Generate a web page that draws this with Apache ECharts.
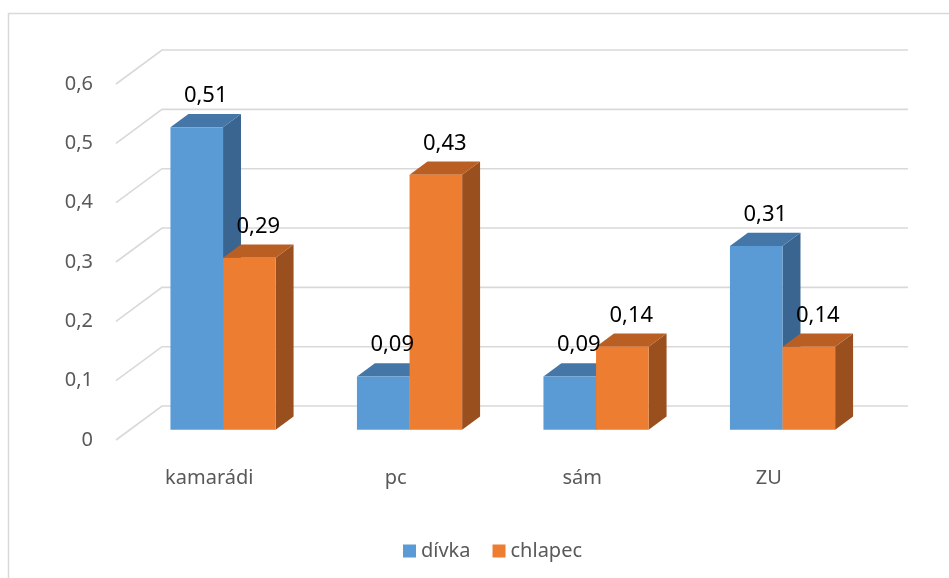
<!DOCTYPE html>
<html>
<head>
<meta charset="utf-8">
<script src="https://cdn.jsdelivr.net/npm/echarts@6/dist/echarts.min.js"></script>
<style>html,body{margin:0;padding:0;background:#fff;}#c{width:949px;height:578px;}</style>
</head>
<body>
<div id="c"></div>
<script>
var categories = ['kamarádi', 'pc', 'sám', 'ZU'];
var seriesNames = ['dívka', 'chlapec'];
var divka = [0.51, 0.09, 0.09, 0.31];
var chlapec = [0.29, 0.43, 0.14, 0.14];
var yTicks = [0, 0.1, 0.2, 0.3, 0.4, 0.5, 0.6];

var FONT = '"Noto Sans", "Open Sans", sans-serif';
var DEPTH_X = 0.2466, DEPTH_Y = 0.182;   // full depth vector relative to band width
var F_FRONT = 0.30, F_BACK = 0.69;       // bar depth placement
var BAR_W = 0.282;                       // bar width relative to band

function fmt(v) { return String(v).replace('.', ','); }

function gridItem(params, api) {
  var v = api.value(1);
  var p = api.coord([0, v]);
  var band = api.size([1, 0])[0];
  var left = p[0] - band / 2;
  var dx = band * DEPTH_X, dy = band * DEPTH_Y;
  var w = band * categories.length;
  return {
    type: 'polyline',
    shape: { points: [[left, p[1]], [left + dx, p[1] - dy], [left + dx + w, p[1] - dy]] },
    style: { stroke: '#D9D9D9', lineWidth: 1.6, fill: null },
    silent: true
  };
}

function barGeom(side, api) {
  var i = api.value(0), v = api.value(1);
  var base = api.coord([i, 0]);
  var top = api.coord([i, v]);
  var band = api.size([1, 0])[0];
  var bw = band * BAR_W;
  var fdx = band * DEPTH_X * F_FRONT, fdy = band * DEPTH_Y * F_FRONT;
  var bdx = band * DEPTH_X * F_BACK, bdy = band * DEPTH_Y * F_BACK;
  var x0 = side === 0 ? base[0] - bw : base[0];
  return { v: v, bw: bw, fx0: x0 + fdx, fx1: x0 + bw + fdx, yb: base[1] - fdy, yt: top[1] - fdy,
           ddx: bdx - fdx, ddy: bdy - fdy };
}

function makeBarItem(side, colors) {
  return function (params, api) {
    var g = barGeom(side, api);
    return { type: 'group', children: [
      { type: 'polygon', shape: { points: [[g.fx1, g.yb], [g.fx1 + g.ddx, g.yb - g.ddy], [g.fx1 + g.ddx, g.yt - g.ddy], [g.fx1, g.yt]] },
        style: { fill: colors[2] } },
      { type: 'polygon', shape: { points: [[g.fx0, g.yt], [g.fx0 + g.ddx, g.yt - g.ddy], [g.fx1 + g.ddx, g.yt - g.ddy], [g.fx1, g.yt]] },
        style: { fill: colors[1] } },
      { type: 'rect', shape: { x: g.fx0, y: g.yt, width: g.bw, height: g.yb - g.yt },
        style: { fill: colors[0] } }
    ] };
  };
}

function makeLabelItem(side) {
  return function (params, api) {
    var g = barGeom(side, api);
    return { type: 'text', style: { text: fmt(g.v), x: (g.fx0 + g.fx1) / 2 + g.ddx / 2, y: g.yt - g.ddy - 7,
      align: 'center', verticalAlign: 'bottom', fontSize: 22, fontFamily: FONT, fill: '#000000' } };
  };
}

var blueColors = ['#5B9BD5', '#4477A8', '#3A6590'];
var orangeColors = ['#ED7D31', '#BA5F24', '#9A4F1E'];

function toData(arr) { return arr.map(function (v, i) { return [i, v]; }); }

var chart = echarts.init(document.getElementById('c'));
chart.setOption({
  backgroundColor: '#ffffff',
  animation: false,
  graphic: [{ type: 'rect', shape: { x: 8.5, y: 13.5, width: 980, height: 620 },
    style: { fill: null, stroke: '#D9D9D9', lineWidth: 1.5 }, silent: true, z: 0 }],
  grid: { left: 116, right: 87, top: 84, bottom: 138, containLabel: false },
  xAxis: {
    type: 'category', data: categories,
    axisLine: { show: false }, axisTick: { show: false }, splitLine: { show: false },
    axisLabel: { color: '#595959', fontSize: 20, fontFamily: FONT, margin: 28 }
  },
  yAxis: {
    type: 'value', min: 0, max: 0.6, interval: 0.1,
    axisLine: { show: false }, axisTick: { show: false }, splitLine: { show: false },
    axisLabel: { color: '#595959', fontSize: 20, fontFamily: FONT, margin: 23,
      formatter: function (v) { return fmt(Math.round(v * 10) / 10); } }
  },
  legend: {
    data: seriesNames, left: 398, top: 536, icon: 'rect', itemWidth: 13, itemHeight: 13, itemGap: 22,
    textStyle: { color: '#595959', fontSize: 20, fontFamily: FONT }
  },
  series: [
    { type: 'custom', name: '_grid', silent: true, z: 1, renderItem: gridItem,
      data: yTicks.map(function (t) { return [0, t]; }), encode: { x: 0, y: 1 } },
    { type: 'custom', name: seriesNames[0], z: 2, itemStyle: { color: blueColors[0] },
      renderItem: makeBarItem(0, blueColors), data: toData(divka), encode: { x: 0, y: 1 } },
    { type: 'custom', name: seriesNames[1], z: 3, itemStyle: { color: orangeColors[0] },
      renderItem: makeBarItem(1, orangeColors), data: toData(chlapec), encode: { x: 0, y: 1 } },
    { type: 'custom', name: '_lbl0', z: 5, silent: true,
      renderItem: makeLabelItem(0), data: toData(divka), encode: { x: 0, y: 1 } },
    { type: 'custom', name: '_lbl1', z: 5, silent: true,
      renderItem: makeLabelItem(1), data: toData(chlapec), encode: { x: 0, y: 1 } }
  ]
});
</script>
</body>
</html>
